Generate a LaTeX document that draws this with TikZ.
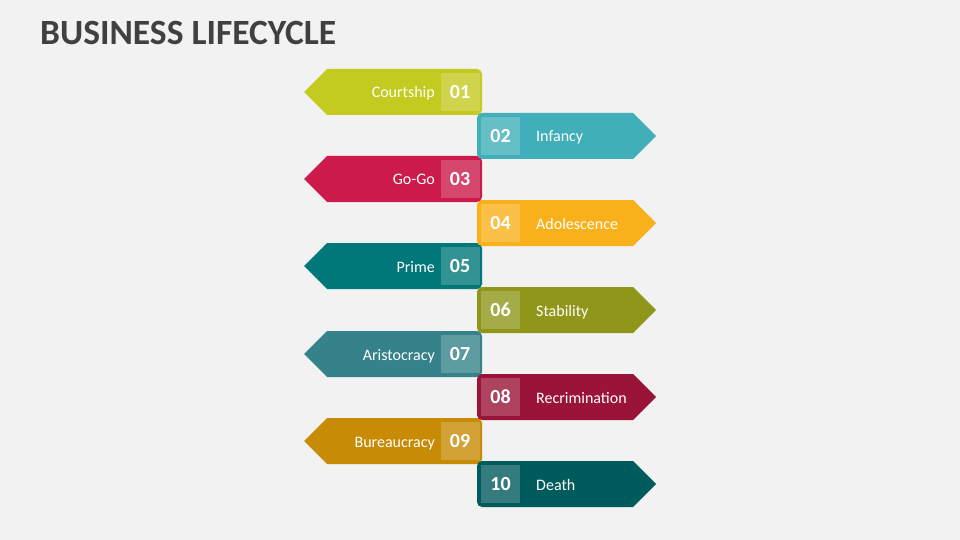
\documentclass[tikz,border=0pt]{standalone}
\usepackage{fontspec}
\setmainfont{Carlito}
\definecolor{bggray}{HTML}{F2F2F2}
\definecolor{titlegray}{HTML}{404040}
\definecolor{courtship}{HTML}{C3CA20}
\definecolor{infancy}{HTML}{40AFB9}
\definecolor{gogo}{HTML}{CC1A4A}
\definecolor{adolescence}{HTML}{F9B11B}
\definecolor{prime}{HTML}{00787A}
\definecolor{stability}{HTML}{8F961A}
\definecolor{aristocracy}{HTML}{35828A}
\definecolor{recrimination}{HTML}{991438}
\definecolor{bureaucracy}{HTML}{C78B05}
\definecolor{death}{HTML}{005B5C}
\tikzset{
  stagetext/.style={text=white, inner sep=0pt, text height=12pt, text depth=0pt, font=\fontsize{16}{16}\selectfont},
  numbox/.style={fill=white, fill opacity=0.2, text opacity=1, text=white, inner sep=0pt,
    minimum width=39pt, minimum height=38pt, font=\bfseries\fontsize{20}{20}\selectfont},
}
\begin{document}
\begin{tikzpicture}[x=1pt, y=-1pt]
\fill[bggray] (0,0) rectangle (960,540);
\useasboundingbox (0,0) rectangle (960,540);
\node[anchor=base west, inner sep=0pt, text=titlegray, font=\bfseries\fontsize{35.5}{36}\selectfont] (title) at (40,45) {BUSINESS LIFECYCLE};
% left pointing stages
\fill[courtship] (304,92) -- (327,69) [rounded corners=5pt] -- (482,69) -- (482,115) [sharp corners] -- (327,115) -- cycle;
\node[numbox] (n01) at (460,92) {01};
\node[stagetext, anchor=east] (s01) at (435,92) {Courtship};
\fill[gogo] (304,179) -- (327,156) [rounded corners=5pt] -- (482,156) -- (482,202) [sharp corners] -- (327,202) -- cycle;
\node[numbox] (n03) at (460,179) {03};
\node[stagetext, anchor=east] (s03) at (435,179) {Go-Go};
\fill[prime] (304,266) -- (327,243) [rounded corners=5pt] -- (482,243) -- (482,289) [sharp corners] -- (327,289) -- cycle;
\node[numbox] (n05) at (460,266) {05};
\node[stagetext, anchor=east] (s05) at (435,266) {Prime};
\fill[aristocracy] (304,354) -- (327,331) [rounded corners=5pt] -- (482,331) -- (482,377) [sharp corners] -- (327,377) -- cycle;
\node[numbox] (n07) at (460,354) {07};
\node[stagetext, anchor=east] (s07) at (435,354) {Aristocracy};
\fill[bureaucracy] (304,441) -- (327,418) [rounded corners=5pt] -- (482,418) -- (482,464) [sharp corners] -- (327,464) -- cycle;
\node[numbox] (n09) at (460,441) {09};
\node[stagetext, anchor=east] (s09) at (435,441) {Bureaucracy};
% right pointing stages
\fill[infancy] (656,136) -- (633,159) [rounded corners=5pt] -- (477,159) -- (477,113) [sharp corners] -- (633,113) -- cycle;
\node[numbox] (n02) at (500.5,136) {02};
\node[stagetext, anchor=west] (s02) at (536,136) {Infancy};
\fill[adolescence] (656,223) -- (633,246) [rounded corners=5pt] -- (477,246) -- (477,200) [sharp corners] -- (633,200) -- cycle;
\node[numbox] (n04) at (500.5,223) {04};
\node[stagetext, anchor=west] (s04) at (536,223) {Adolescence};
\fill[stability] (656,310) -- (633,333) [rounded corners=5pt] -- (477,333) -- (477,287) [sharp corners] -- (633,287) -- cycle;
\node[numbox] (n06) at (500.5,310) {06};
\node[stagetext, anchor=west] (s06) at (536,310) {Stability};
\fill[recrimination] (656,397) -- (633,420) [rounded corners=5pt] -- (477,420) -- (477,374) [sharp corners] -- (633,374) -- cycle;
\node[numbox] (n08) at (500.5,397) {08};
\node[stagetext, anchor=west] (s08) at (536,397) {Recrimination};
\fill[death] (656,484) -- (633,507) [rounded corners=5pt] -- (477,507) -- (477,461) [sharp corners] -- (633,461) -- cycle;
\node[numbox] (n10) at (500.5,484) {10};
\node[stagetext, anchor=west] (s10) at (536,484) {Death};
\end{tikzpicture}
\end{document}
